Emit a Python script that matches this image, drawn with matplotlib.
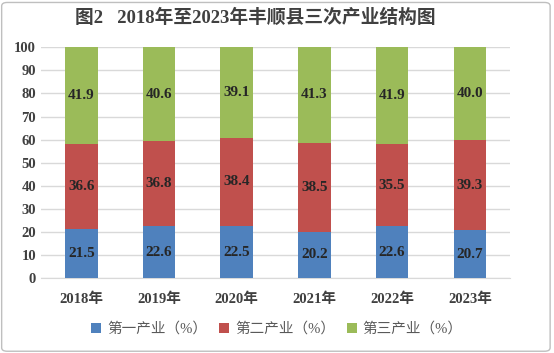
import numpy as np
import matplotlib.pyplot as plt
from matplotlib.patches import FancyBboxPatch

plt.rcParams['font.family'] = ['Liberation Serif', 'Noto Sans CJK SC']

years = ['2018年', '2019年', '2020年', '2021年', '2022年', '2023年']
primary = [21.5, 22.6, 22.5, 20.2, 22.6, 20.7]
secondary = [36.6, 36.8, 38.4, 38.5, 35.5, 39.3]
tertiary = [41.9, 40.6, 39.1, 41.3, 41.9, 40.0]
series_names = ['第一产业（%）', '第二产业（%）', '第三产业（%）']
colors = ['#4F81BD', '#C0504D', '#9BBB59']

fig = plt.figure(figsize=(5.54, 3.53), dpi=100)
ax = fig.add_axes([0.074, 0.212, 0.847, 0.654])

x = np.arange(len(years))
bottom = np.zeros(len(years))
for vals, name, c in zip([primary, secondary, tertiary], series_names, colors):
    bars = ax.bar(x, vals, width=0.42, bottom=bottom, color=c, label=name, zorder=3)
    for xi, b, v in zip(x, bottom, vals):
        ax.text(xi, b + v / 2, f'{v:.1f}', ha='center', va='center',
                fontsize=11, fontweight='bold', color='#262626', zorder=4)
    bottom = bottom + np.array(vals)

ax.set_ylim(0, 100)
ax.set_xlim(-0.52, len(years) - 0.48)
ax.set_yticks(range(0, 101, 10))
ax.set_xticks(x)
ax.set_xticklabels(years)
ax.yaxis.grid(True, color='#D9D9D9', linewidth=1, zorder=0)
for s in ['top', 'right', 'left']:
    ax.spines[s].set_visible(False)
ax.spines['bottom'].set_color('#D9D9D9')
ax.tick_params(axis='both', length=0, labelsize=10.5, colors='#404040')
ax.tick_params(axis='x', pad=10)
for lbl in ax.get_xticklabels() + ax.get_yticklabels():
    lbl.set_fontweight('bold')

fig.text(0.46, 0.95, '图2   2018年至2023年丰顺县三次产业结构图', ha='center', va='center',
         fontsize=13.5, fontweight='bold', color='#404040')

fig.legend(loc='center', bbox_to_anchor=(0.5, 0.068), ncol=3, frameon=False,
           fontsize=10.5, handlelength=0.7, handleheight=0.7, columnspacing=0.8,
           handletextpad=0.4, labelcolor='#595959')

border = FancyBboxPatch((0.003, 0.005), 0.99, 0.988, boxstyle='round,pad=0,rounding_size=0.01',
                        transform=fig.transFigure, fill=False, edgecolor='#BFBFBF', linewidth=1)
fig.patches.append(border)

fig.savefig('out.png', dpi=100)
